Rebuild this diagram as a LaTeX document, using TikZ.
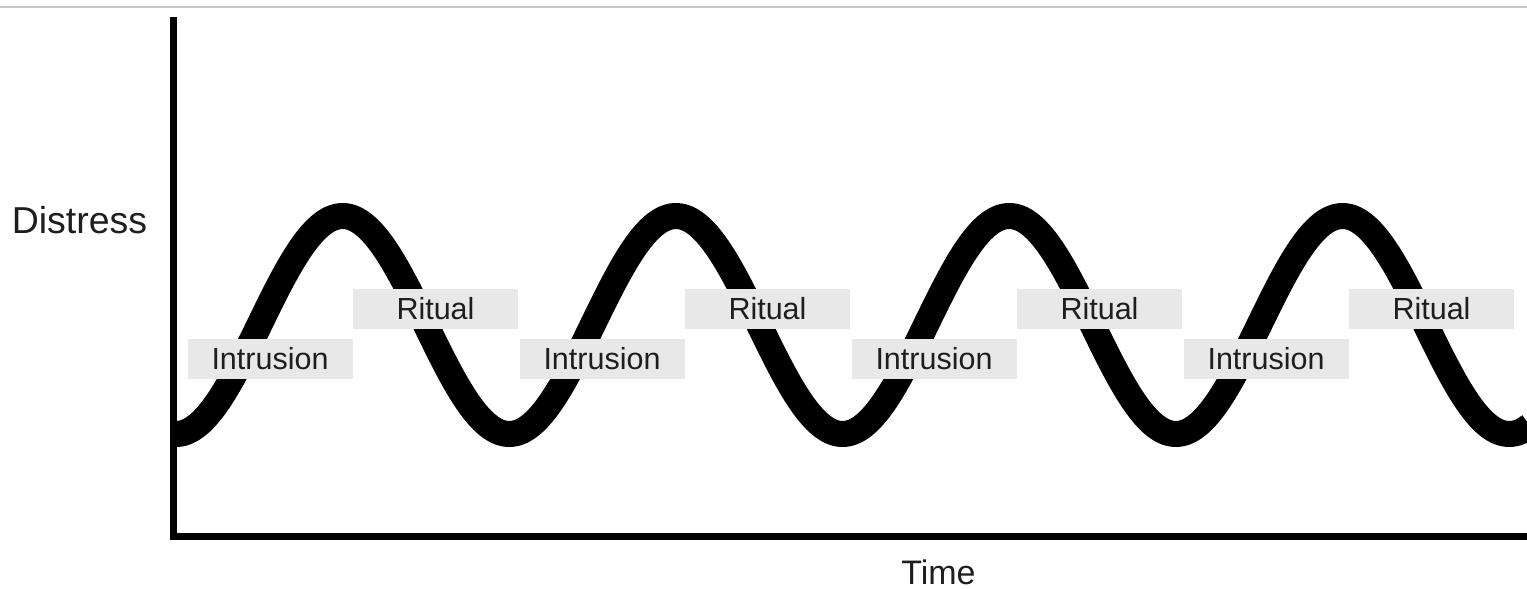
\documentclass[tikz,border=0pt]{standalone}
\usepackage{fontspec}
\setmainfont{Liberation Sans}
\definecolor{boxgray}{HTML}{E8E8E8}
\definecolor{txt}{HTML}{1E1E1E}
\definecolor{rule}{HTML}{C8C8C8}
\begin{document}
\begin{tikzpicture}[x=1pt,y=-1pt,
  phase/.style={fill=boxgray, draw=none, minimum width=165pt, minimum height=40pt,
    inner sep=0pt, text=txt, font=\fontsize{30.5}{31}\selectfont},
  axislabel/.style={text=txt, anchor=base, inner sep=0pt, font=\fontsize{37.5}{38}\selectfont},
  wave/.style={line width=26pt}]
\useasboundingbox (0,0) rectangle (1527,589);
% top rule
\draw[rule, line width=1.5pt] (0,7) -- (1527,7);
% wave
\begin{scope}
\clip (0,0) rectangle (1527,589);
\draw[wave] plot[domain=174:1530, samples=300, smooth, variable=\t]
  (\t, {325+109*cos((\t-176)*1.080108)});
% axes
\coordinate (top) at (173.5,17);
\coordinate (origin) at (173.5,536);
\coordinate (right) at (1530,536);
\draw[line width=7pt] (top) -- (origin) -- (right);
\end{scope}
% labels
\foreach \k in {0,1,2,3} {
  \node[phase] (intr\k) at ({270+332*\k},359) {Intrusion};
  \node[phase] (rit\k) at ({435.5+332*\k},309) {Ritual};
}
\node[axislabel] (distress) at (79.5,233) {Distress};
\node[axislabel, font=\fontsize{34}{35}\selectfont] (time) at (938.5,584) {Time};
\end{tikzpicture}
\end{document}
